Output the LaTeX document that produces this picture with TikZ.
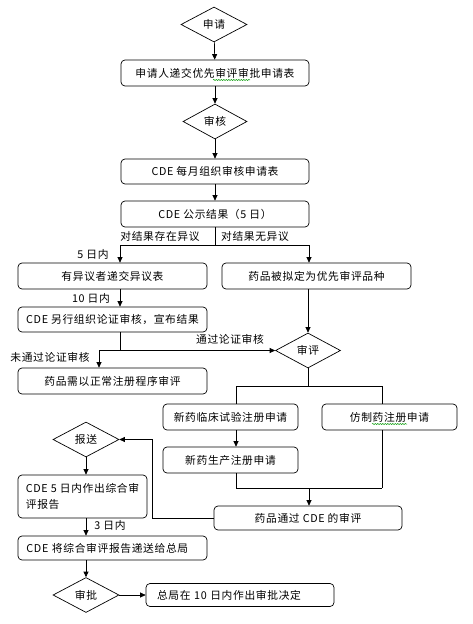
\documentclass[tikz,border=0pt]{standalone}
\usepackage{fontspec}
\usepackage{tikz}
\usetikzlibrary{arrows.meta, shapes.geometric, decorations.pathmorphing}
\setmainfont{Noto Sans CJK SC}[LetterSpace=6]
\pgfdeclarelayer{edgelayer}
\pgfdeclarelayer{nodelayer}
\pgfsetlayers{nodelayer,main,edgelayer}
\tikzset{
	every node/.style={font=\fontsize{10.8}{16}\selectfont, inner sep=0pt},
	box/.style={draw, line width=0.7bp, rounded corners=4bp, minimum height=26bp},
	decide/.style={draw, line width=0.7bp, diamond, minimum width=66bp, minimum height=35bp},
	flow/.style={line width=0.7bp, -{Triangle[length=5.5bp,width=5bp]}},
	link/.style={line width=0.7bp},
	squiggle/.style={green!60!black, line width=0.5bp, decorate, decoration={snake, amplitude=0.6bp, segment length=2.5bp}},
}

\begin{document}
\begin{tikzpicture}[x=1bp, y=-1bp]
	\useasboundingbox (0,0) rectangle (473,624);
	\begin{pgfonlayer}{nodelayer}
		\node [decide] (0) at (214, 24.5) {申请};
		\node [box, minimum width=188bp] (1) at (215, 73) {申请人递交优先审评审批申请表};
		\node [decide, minimum width=64bp] (2) at (215, 121.5) {审核};
		\node [box, minimum width=188bp, minimum height=25bp] (3) at (215, 171.5) {CDE 每月组织审核申请表};
		\node [box, minimum width=188bp] (4) at (215, 214) {CDE 公示结果（5 日）};
		\node [box, minimum width=189bp] (5) at (112.5, 276) {有异议者递交异议表};
		\node [box, minimum width=189bp] (6) at (316.5, 276) {药品被拟定为优先审评品种};
		\node [box, minimum width=189bp, minimum height=25bp] (7) at (112.5, 319.5) {CDE 另行组织论证审核，宣布结果};
		\node [box, minimum width=189bp] (8) at (112.5, 381) {药品需以正常注册程序审评};
		\node [decide, minimum width=65bp] (9) at (308, 350.5) {审评};
		\node [box, minimum width=135bp] (10) at (230.5, 417) {新药临床试验注册申请};
		\node [box, minimum width=135bp] (11) at (389.5, 417) {仿制药注册申请};
		\node [box, minimum width=135bp] (12) at (230.5, 460) {新药生产注册申请};
		\node [box, minimum width=188bp, minimum height=24bp] (13) at (308, 518) {药品通过 CDE 的审评};
		\node [decide] (14) at (86, 439.5) {报送};
		\node [box, minimum width=129bp, minimum height=43bp, align=left] (15) at (82.5, 496.5) {CDE 5 日内作出综合审\\评报告};
		\node [box, minimum width=189bp, minimum height=24bp, text width=172bp, align=left] (16) at (112.5, 548) {CDE 将综合审评报告递送给总局};
		\node [decide] (17) at (86, 595) {审批};
		\node [box, minimum width=188bp, minimum height=23bp, text width=166bp, align=left] (18) at (240, 595) {总局在 10 日内作出审批决定};
		\node [] (19) at (160, 236) {对结果存在异议};
		\node [] (20) at (255, 236) {对结果无异议};
		\node [] (21) at (93, 254) {5 日内};
		\node [] (22) at (91, 298) {10 日内};
		\node [] (23) at (230, 339) {通过论证审核};
		\node [] (24) at (50, 357) {未通过论证审核};
		\node [] (25) at (110, 525) {3 日内};
	\end{pgfonlayer}
	\begin{pgfonlayer}{edgelayer}
		\coordinate (30) at (215, 245);
		\coordinate (31) at (120, 245);
		\coordinate (32) at (309, 245);
		\coordinate (33) at (120, 350.5);
		\coordinate (34) at (99, 350.5);
		\coordinate (35) at (308, 386);
		\coordinate (36) at (236, 386);
		\coordinate (37) at (382, 386);
		\coordinate (38) at (236, 488);
		\coordinate (39) at (382, 488);
		\coordinate (40) at (309, 488);
		\coordinate (41) at (152, 518);
		\coordinate (42) at (152, 439.5);
		\draw [flow] (0) to (1);
		\draw [flow] (1) to (2);
		\draw [flow] (2) to (3);
		\draw [flow] (3) to (4);
		\draw [link] (4) to (30);
		\draw [link] (31) to (32);
		\draw [flow] (31) to (31 |- 5.north);
		\draw [flow] (32) to (32 |- 6.north);
		\draw [flow] (5.south -| 31) to (7.north -| 31);
		\draw [link] (7.south -| 33) to (33);
		\draw [link] (34) to (33);
		\draw [flow] (33) to (9.west);
		\draw [flow] (34) to (34 |- 8.north);
		\draw [flow] (6.south -| 9) to (9.north);
		\draw [link] (9) to (35);
		\draw [link] (36) to (37);
		\draw [link] (36) to (36 |- 10.north);
		\draw [link] (37) to (37 |- 11.north);
		\draw [flow] (10.south -| 36) to (12.north -| 36);
		\draw [link] (12.south -| 38) to (38);
		\draw [link] (38) to (39);
		\draw [link] (11.south -| 39) to (39);
		\draw [flow] (40) to (40 |- 13.north);
		\draw [flow] (13.west) -- (41) -- (42) -- (14.east);
		\draw [flow] (14.south) to (14.south |- 15.north);
		\draw [flow] (15.south -| 14) to (16.north -| 14);
		\draw [flow] (16.south -| 17) to (17.north);
		\draw [flow] (17) to (18);
		\draw [squiggle] (213, 80) -- (250, 80);
		\draw [squiggle] (372, 424) -- (407, 424);
	\end{pgfonlayer}
\end{tikzpicture}
\end{document}
